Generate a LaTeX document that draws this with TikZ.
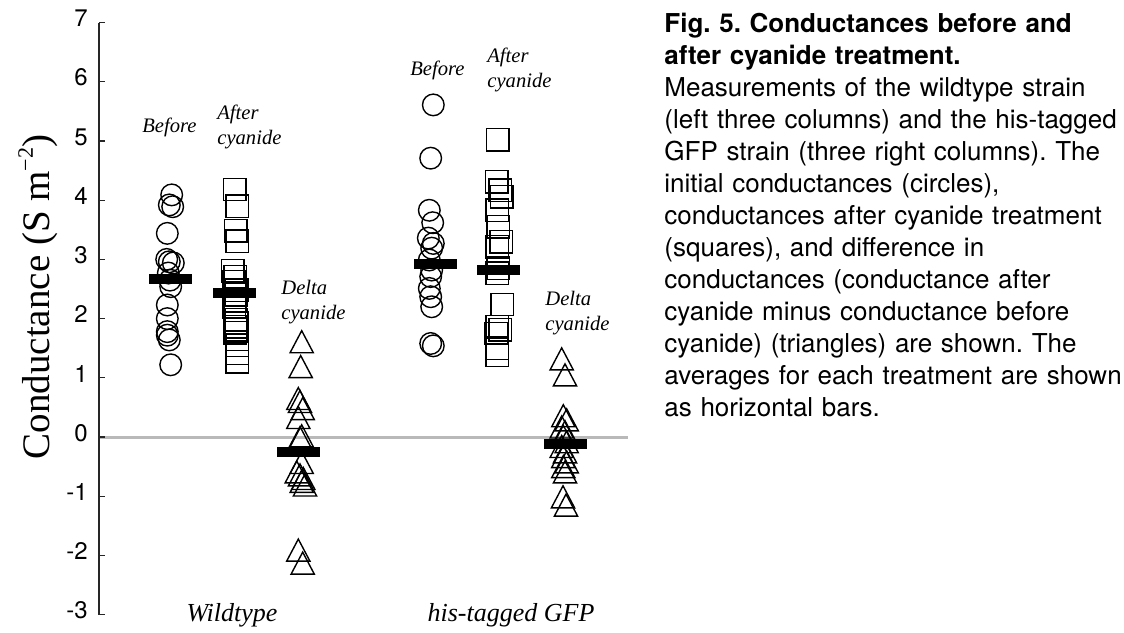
\documentclass[tikz,border=0pt]{standalone}
\usepackage{fontspec}
\setmainfont{Liberation Serif}
\newfontfamily\helv{TeX Gyre Heros}
\usepackage{tikz}
\frenchspacing

\begin{document}
\begin{tikzpicture}[x=0.5pt, y=29.6pt,
        ticklbl/.style={anchor=east, inner sep=0pt, font=\helv\fontsize{12pt}{14pt}\selectfont},
        grplbl/.style={anchor=north west, align=left, inner sep=0pt, font=\itshape\fontsize{10.3pt}{12.5pt}\selectfont},
        strainlbl/.style={anchor=base, inner sep=0pt, font=\itshape\fontsize{13pt}{15pt}\selectfont},
        mk/.style={line width=0.7pt}]
                \useasboundingbox (0,-3.294) rectangle (1124,7.382);

                % axis
                \draw[gray!55, line width=1.5pt] (99,0) -- (628,0);
                \draw[line width=0.6pt, black!85] (99,7) -- (99,-3);
                \foreach \v in {-3,...,7} {
                    \draw[line width=0.6pt, black!85] (99,\v) -- ++(3pt,0);
                    \node[ticklbl] (tick\v) at (88,\v+0.07) {\v};
                }
                \node[rotate=90, inner sep=0pt, font=\fontsize{19.5pt}{22pt}\selectfont] (ylab) at (38,2.365)
                    {Conductance (S m\raisebox{0.42em}{\fontsize{11pt}{11pt}\selectfont −2})};

                % wildtype
                \foreach \x/\v in {171.7/4.09, 169.3/3.92, 172.7/3.89, 167.3/3.44, 166.7/3.00, 169.3/2.96,
                                   173.3/2.94, 168.3/2.77, 170/2.65, 170.7/2.54, 167.3/2.23, 167.3/2.00,
                                   167.3/1.78, 167.3/1.72, 169.3/1.64, 170.7/1.22}
                    \draw[mk] (\x,\v) circle[radius=5.4pt];
                \foreach \x/\v in {234.7/4.18, 237.3/3.90, 235.7/3.48, 237.3/3.31, 232.7/2.81, 235/2.71,
                                   234/2.62, 236.7/2.48, 236/2.40, 235/2.30, 234/2.20, 236/1.98,
                                   236.7/1.92, 235/1.86, 236/1.81, 235/1.76, 237.3/1.55, 237.3/1.41, 237.3/1.27}
                    \draw[mk] (\x,\v) ++(-5.6pt,-5.6pt) rectangle ++(11.2pt,11.2pt);
                \foreach \x/\v in {301.7/1.61, 300.7/1.19, 298.3/0.65, 300/0.60, 302.7/0.48, 298.3/0.33,
                                   301.7/0.02, 300/-0.01, 301.7/-0.43, 296.7/-0.59, 300/-0.64, 303.3/-0.70,
                                   301.7/-0.75, 305/-0.81, 298.3/-1.91, 302.7/-2.13}
                    \draw[mk] (\x,\v) ++(0,5.5pt) -- ++(-5.8pt,-11pt) -- ++(11.6pt,0) -- cycle;

                % his-tagged GFP
                \foreach \x/\v in {433.3/5.61, 430.7/4.71, 429.3/3.83, 432.7/3.62, 428.3/3.36, 433.3/3.27,
                                   431.7/3.19, 429.3/2.99, 431.7/2.82, 430.7/2.71, 429.3/2.51, 430.7/2.37,
                                   431.7/2.20, 430.7/1.58, 433.3/1.54}
                    \draw[mk] (\x,\v) circle[radius=5.4pt];
                \foreach \x/\v in {497.7/5.02, 496.7/4.31, 500/4.17, 501.7/4.06, 497.3/3.83, 498.3/3.55,
                                   501/3.30, 497.3/3.21, 498.3/2.85, 497.3/2.77, 502.3/2.24, 497.3/1.86,
                                   500/1.81, 496/1.75, 497.3/1.50, 497.3/1.38}
                    \draw[mk] (\x,\v) ++(-5.6pt,-5.6pt) rectangle ++(11.2pt,11.2pt);
                \foreach \x/\v in {561.7/1.32, 565/1.05, 563.3/0.36, 566.7/0.29, 561.7/0.17, 565/0.09,
                                   563.3/0.01, 566.7/-0.08, 561.7/-0.16, 565/-0.25, 563.3/-0.33, 566.7/-0.42,
                                   563.3/-0.50, 565/-0.59, 563/-1.01, 566/-1.15}
                    \draw[mk] (\x,\v) ++(0,5.5pt) -- ++(-5.8pt,-11pt) -- ++(11.6pt,0) -- cycle;

                % averages
                \foreach \x/\v in {170.5/2.67, 234/2.43, 298/-0.25, 435.5/2.92, 498.5/2.82, 565/-0.11}
                    \fill (\x,\v) ++(-10.75pt,-2.5pt) rectangle ++(21.5pt,5pt);

                % labels
                \node[grplbl] (befWT) at (142,5.389) {Before};
                \node[grplbl] (aftWT) at (217,5.608) {After\\cyanide};
                \node[grplbl] (delWT) at (281,2.652) {Delta\\cyanide};
                \node[grplbl] (befGFP) at (410,6.351) {Before};
                \node[grplbl] (aftGFP) at (487,6.571) {After\\cyanide};
                \node[grplbl] (delGFP) at (545,2.466) {Delta\\cyanide};
                \node[strainlbl] (wt) at (232,-3.108) {Wildtype};
                \node[strainlbl] (gfp) at (511,-3.108) {his-tagged GFP};

                % caption
                \node[anchor=north west, inner sep=0pt, text width=240pt, align=left,
                      font=\helv\fontsize{13pt}{16pt}\selectfont] (caption) at (664,7.162)
                    {\bfseries Fig. 5. Conductances before and\\
                     after cyanide treatment.\\
                     \mdseries Measurements of the wildtype strain\\
                     (left three columns) and the his-tagged\\
                     GFP strain (three right columns). The\\
                     initial conductances (circles),\\
                     conductances after cyanide treatment\\
                     (squares), and difference in\\
                     conductances (conductance after\\
                     cyanide minus conductance before\\
                     cyanide) (triangles) are shown. The\\
                     averages for each treatment are shown\\
                     as horizontal bars.};
            \end{tikzpicture}
\end{document}
